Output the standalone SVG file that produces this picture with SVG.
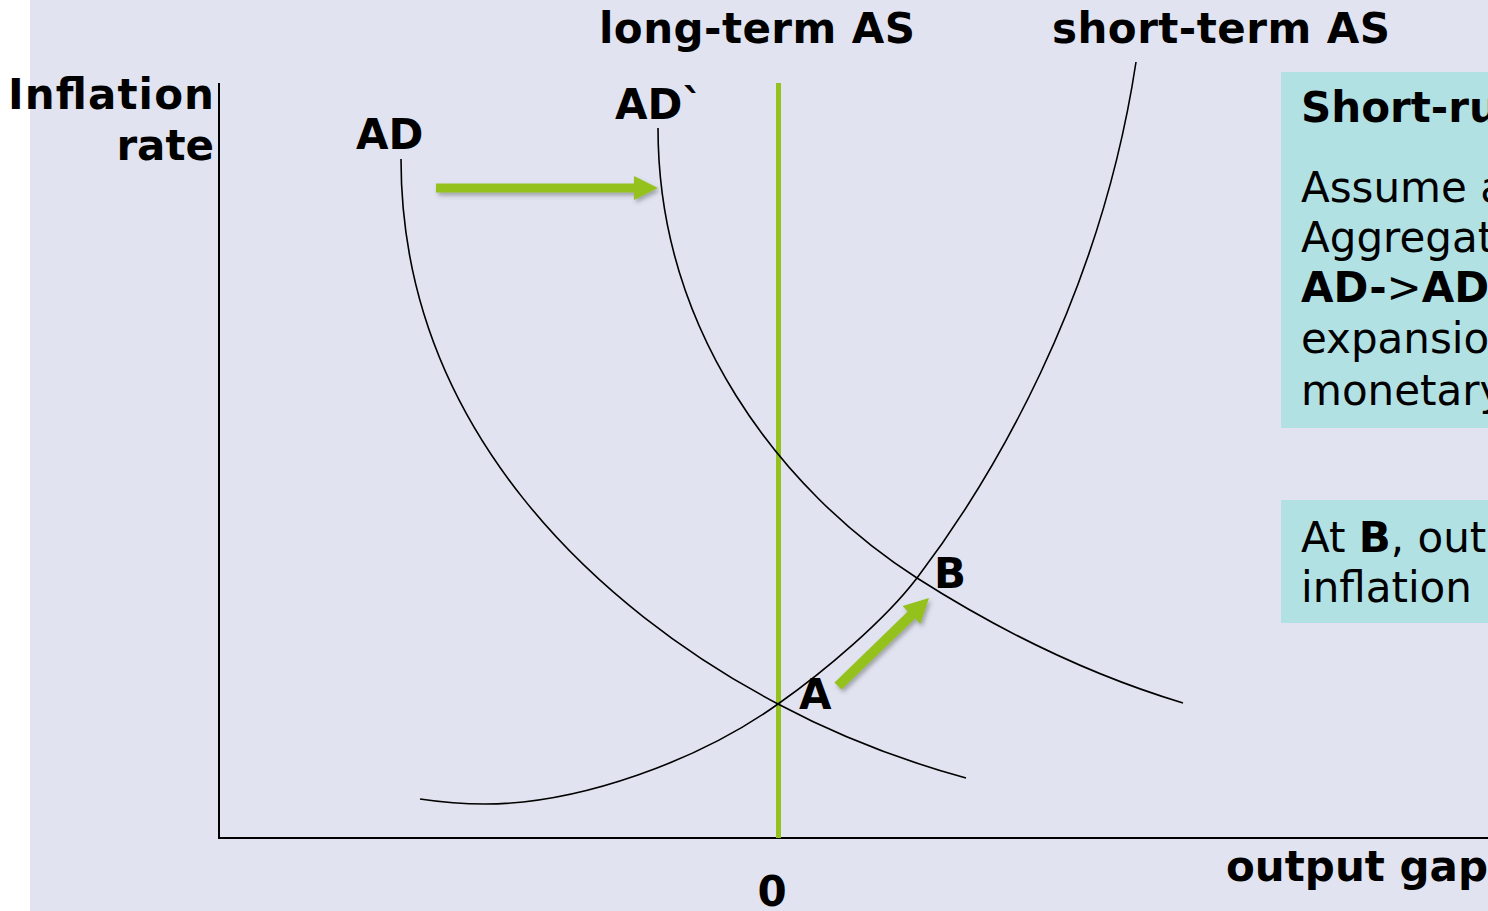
<svg xmlns="http://www.w3.org/2000/svg" width="1488" height="911" viewBox="0 0 1488 911">
<defs>
<style>
.lbl{font-family:"DejaVu Sans","Verdana",sans-serif;font-weight:bold;font-size:42px;fill:#000}
.pt{font-family:"DejaVu Sans","Verdana",sans-serif;font-weight:bold;font-size:42px;fill:#000}
.body{font-family:"DejaVu Sans","Verdana",sans-serif;font-size:42px;fill:#000}
.b{font-weight:bold}
.curve{fill:none;stroke:#000;stroke-width:1.6}
.axis{fill:none;stroke:#000;stroke-width:2}
.box{fill:#B2E1E4}
.grn{fill:#95C11F}
</style>
<filter id="sh" x="-20%" y="-50%" width="140%" height="200%">
<feDropShadow dx="2" dy="3" stdDeviation="2" flood-color="#555" flood-opacity="0.45"/>
</filter>
</defs>
<rect x="0" y="0" width="1488" height="911" fill="#fff"/>
<rect x="30" y="0" width="1458" height="911" fill="#E1E4F0"/>

<g id="axes">
<line class="axis" x1="219" y1="83" x2="219" y2="839"/>
<line class="axis" x1="218" y1="838" x2="1488" y2="838"/>
<text class="lbl" x="214" y="109" text-anchor="end" textLength="206">Inflation</text>
<text class="lbl" x="214" y="160" text-anchor="end">rate</text>
<text class="lbl" x="1226" y="881">output gap</text>
<text class="lbl" x="772" y="906" text-anchor="middle">0</text>
</g>

<g id="long-term-AS">
<line x1="778.5" y1="83" x2="778.5" y2="838" stroke="#95C11F" stroke-width="5"/>
<text class="lbl" x="599" y="43" textLength="316">long-term AS</text>
</g>

<g id="short-term-AS">
<path class="curve" d="M420,799 C440,802 460,804 485,804 C580,804 700,760 778,704 C825,671 885,620 917,578 C990,482 1100,300 1136,62"/>
<text class="lbl" x="1052" y="43" textLength="338">short-term AS</text>
</g>

<g id="AD">
<path class="curve" d="M401,159 C401,430 600,610 778,704 C840,737 900,760 966,778"/>
<text class="lbl" x="356" y="149">AD</text>
</g>

<g id="AD-prime">
<path class="curve" d="M658,128 C658,330 780,490 917,578 C1000,631 1090,675 1183,703"/>
<text class="lbl" x="615" y="119">AD`</text>
</g>

<g id="point-A"><text class="pt" x="799" y="709">A</text></g>
<g id="point-B"><text class="pt" x="934" y="588">B</text></g>

<g id="connectors" filter="url(#sh)">
<polygon class="grn" points="436,183.5 634,183.5 634,176 658,188 634,200 634,192.5 436,192.5"/>
<polygon class="grn" points="841.5,689.6 915.2,618.6 920.3,623.9 929,598 902.6,606 907.7,611.4 834.5,682.4"/>
</g>

<g id="box-short-run">
<rect class="box" x="1281" y="72" width="220" height="356"/>
<text class="body b" x="1301" y="122">Short-run</text>
<text class="body" x="1301" y="202">Assume an</text>
<text class="body" x="1301" y="252">Aggregate</text>
<text class="body" x="1301" y="302"><tspan class="b">AD-</tspan>&gt;<tspan class="b">AD`</tspan></text>
<text class="body" x="1301" y="353">expansion</text>
<text class="body" x="1301" y="405">monetary</text>
</g>

<g id="box-at-B">
<rect class="box" x="1281" y="500" width="220" height="123"/>
<text class="body" x="1301" y="552">At <tspan class="b">B</tspan>, output</text>
<text class="body" x="1301" y="602">inflation</text>
</g>
</svg>
